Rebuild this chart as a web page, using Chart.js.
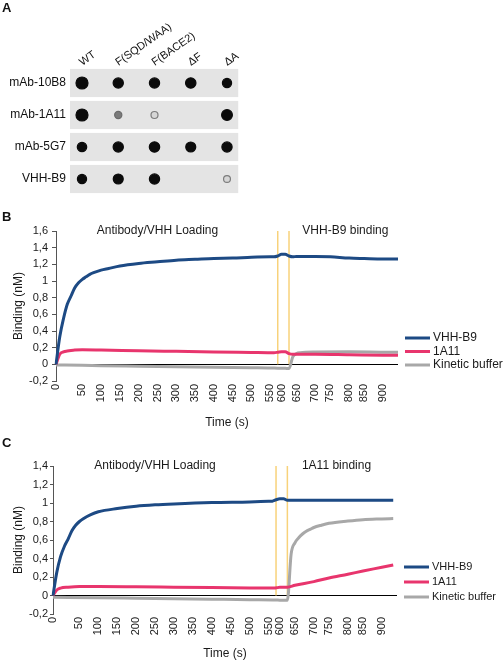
<!DOCTYPE html>
<html>
<head>
<meta charset="utf-8">
<script src="https://cdn.jsdelivr.net/npm/chart.js@4.4.1/dist/chart.umd.min.js"></script>
<style>
  html, body { margin: 0; padding: 0; background: #fff; }
  body { width: 504px; height: 661px; position: relative; overflow: hidden; }
  canvas { position: absolute; left: 0; }
  .panel { position: absolute; left: 2px; z-index: 2; font: bold 13px 'Liberation Sans', Arial, sans-serif; color: #111; }
</style>
</head>
<body>
<canvas id="blot" width="504" height="200" style="top:0"></canvas>
<canvas id="chartB" width="504" height="230" style="top:200px"></canvas>
<canvas id="chartC" width="504" height="231" style="top:430px"></canvas>
<div class="panel" style="top:0px">A</div>
<div class="panel" style="top:209px">B</div>
<div class="panel" style="top:435px">C</div>
<script>
Chart.defaults.font.family = "'Liberation Sans', Arial, Helvetica, sans-serif";
Chart.defaults.color = '#1a1a1a';
Chart.defaults.animation = false;

// ---- A: dot blot ----
const columnLabels = ['WT', 'F(SQD/WAA)', 'F(BACE2)', 'ΔF', 'ΔA'];
const rowLabels = ['mAb-10B8', 'mAb-1A11', 'mAb-5G7', 'VHH-B9'];
// relative spot strength, 0 = no spot
const spot10B8 = [1, 0.78, 0.78, 0.8, 0.65];
const spot1A11 = [1, 0.3, 0.25, 0, 0.85];
const spot5G7 = [0.68, 0.78, 0.8, 0.75, 0.78];
const spotB9 = [0.65, 0.75, 0.78, 0, 0.22];

// ---- B / C: BLI sensorgrams ----
// sample times used as categories (the original axis is not linear in time)
const timePoints = [
  0, 5, 10, 15, 20, 30, 40,
  50, 60, 70, 80, 90, 100, 110, 120, 130, 140, 150, 160, 170, 180, 190,
  200, 210, 220, 230, 240, 250, 260, 270, 280, 290, 300, 310, 320, 330, 340,
  350, 360, 370, 380, 390, 400, 410, 420, 430, 440, 450, 460, 470, 480, 490,
  500, 510, 520, 530, 540,
  550, 565, 585,
  600, 610, 620, 635,
  650, 660, 670, 680, 690,
  700, 712.5, 725, 737.5,
  750, 760, 770, 780, 790,
  800, 812.5, 825, 837.5,
  850, 860, 870, 880, 890,
  900, 910, 920, 930, 940
];
const timeTicks = [0, 50, 100, 150, 200, 250, 300, 350, 400, 450, 500, 550, 600, 650, 700, 750, 800, 850, 900];
const phaseSwitch = [585, 620];

// B: VHH-B9 binding step
const bVhhB9 = [[0, 0], [5, 0.33], [10, 0.55], [15, 0.72], [20, 0.82], [30, 0.92], [40, 0.98], [50, 1.02], [60, 1.05],
  [70, 1.08], [80, 1.1], [100, 1.13], [120, 1.15], [150, 1.18], [200, 1.21], [250, 1.23], [300, 1.25], [350, 1.26],
  [400, 1.27], [450, 1.275], [500, 1.285], [550, 1.29], [565, 1.29], [585, 1.3], [600, 1.32], [610, 1.32], [620, 1.3],
  [635, 1.29], [650, 1.295], [700, 1.295], [750, 1.29], [800, 1.275], [850, 1.27], [900, 1.265], [940, 1.265]];
const b1A11 = [[0, 0], [5, 0.12], [10, 0.15], [15, 0.16], [20, 0.167], [30, 0.172], [50, 0.174], [100, 0.171],
  [200, 0.163], [300, 0.156], [400, 0.149], [500, 0.143], [550, 0.14], [565, 0.14], [585, 0.145], [600, 0.152],
  [610, 0.152], [620, 0.128], [635, 0.12], [700, 0.12], [800, 0.115], [900, 0.11], [940, 0.108]];
const bBuffer = [[0, -0.008], [50, -0.012], [100, -0.016], [200, -0.022], [300, -0.028], [400, -0.034], [500, -0.04],
  [550, -0.043], [585, -0.046], [600, -0.047], [610, -0.048], [620, -0.05], [635, 0.09], [650, 0.13], [660, 0.14],
  [700, 0.148], [800, 0.15], [900, 0.146], [940, 0.145]];

// C: 1A11 binding step
const cVhhB9 = [[0, 0], [5, 0.25], [10, 0.42], [15, 0.53], [20, 0.61], [30, 0.7], [40, 0.76], [50, 0.8], [60, 0.83],
  [80, 0.875], [100, 0.905], [150, 0.94], [200, 0.965], [250, 0.98], [300, 0.99], [400, 1.005], [500, 1.012],
  [550, 1.018], [565, 1.02], [585, 1.035], [600, 1.045], [610, 1.045], [620, 1.03], [635, 1.03], [700, 1.03],
  [800, 1.03], [930, 1.03]];
const c1A11 = [[0, 0], [5, 0.06], [10, 0.08], [20, 0.09], [50, 0.097], [100, 0.097], [200, 0.094], [300, 0.09],
  [400, 0.086], [500, 0.082], [550, 0.08], [565, 0.08], [585, 0.083], [600, 0.088], [620, 0.09], [650, 0.11],
  [700, 0.15], [750, 0.19], [800, 0.23], [850, 0.265], [900, 0.305], [930, 0.33]];
const cBuffer = [[0, -0.02], [100, -0.025], [200, -0.03], [300, -0.035], [400, -0.04], [500, -0.045], [585, -0.048],
  [600, -0.05], [620, -0.05], [635, 0.45], [650, 0.57], [660, 0.625], [670, 0.665], [680, 0.695], [690, 0.715],
  [700, 0.735], [725, 0.76], [750, 0.78], [800, 0.805], [850, 0.82], [900, 0.828], [930, 0.832]];

const seriesNames = ['VHH-B9', '1A11', 'Kinetic buffer'];
const seriesColors = ['#1d4a84', '#e8356d', '#a8a8a8'];

// grey membrane strips behind each row of spots
const rowBands = {
  id: 'rowBands',
  beforeDatasetsDraw(chart) {
    const { ctx, scales: { x, y } } = chart;
    ctx.save();
    ctx.fillStyle = '#e4e4e4';
    rowLabels.forEach((_, i) => {
      const x0 = x.getPixelForValue(-0.33), x1 = x.getPixelForValue(4.31);
      const y0 = y.getPixelForValue(i - 0.44), y1 = y.getPixelForValue(i + 0.44);
      ctx.fillRect(x0, Math.min(y0, y1), x1 - x0, Math.abs(y1 - y0));
    });
    ctx.restore();
  }
};

function spotRadius(s) { return s >= 0.5 ? 2 + 4 * s : 3 + 2 * s; }
function spotFill(s) { return s >= 0.5 ? '#0b0b0b' : (s < 0.28 ? '#d6d6d6' : '#7a7a7a'); }
function spotEdge(s) { return s >= 0.5 ? '#0b0b0b' : (s < 0.28 ? '#7c7c7c' : '#6a6a6a'); }

const spots = [];
[spot10B8, spot1A11, spot5G7, spotB9].forEach((row, r) => {
  row.forEach((s, c) => { if (s > 0) spots.push({ x: columnLabels[c], y: rowLabels[r], s: s }); });
});

new Chart(document.getElementById('blot'), {
  type: 'scatter',
  data: {
    datasets: [{
      data: spots,
      clip: false,
      pointRadius: c => c.raw ? spotRadius(c.raw.s) : 0,
      pointBackgroundColor: c => c.raw ? spotFill(c.raw.s) : '#000',
      pointBorderColor: c => c.raw ? spotEdge(c.raw.s) : '#000',
      pointBorderWidth: 1.2
    }]
  },
  options: {
    responsive: false,
    events: [],
    layout: { padding: { right: 277, bottom: 21 } },
    plugins: { legend: { display: false }, tooltip: { enabled: false } },
    scales: {
      x: {
        type: 'category', labels: columnLabels, position: 'top', offset: false,
        grid: { display: false, drawTicks: false }, border: { display: false },
        ticks: { autoSkip: false, minRotation: 35, maxRotation: 35, padding: 14, labelOffset: 6, font: { size: 11 }, color: '#111' },
        afterFit(s) { s.height = 83; s.paddingLeft = 0; s.paddingRight = 0; }
      },
      y: {
        type: 'category', labels: rowLabels, offset: false,
        grid: { display: false, drawTicks: false }, border: { display: false },
        ticks: { padding: 16, font: { size: 12 }, color: '#111' },
        afterFit(s) { s.width = 82; s.paddingTop = 0; s.paddingBottom = 0; }
      }
    }
  },
  plugins: [rowBands]
});

// phase captions above the curves
const phaseText = {
  id: 'phaseText',
  afterDatasetsDraw(chart, args, o) {
    const { ctx, scales: { x, y } } = chart;
    ctx.save();
    ctx.font = "12px 'Liberation Sans', Arial, sans-serif";
    ctx.fillStyle = '#1a1a1a';
    ctx.textAlign = 'center';
    ctx.textBaseline = 'middle';
    o.items.forEach(it => ctx.fillText(it.text, x.getPixelForValue(timePoints.indexOf(it.t)), y.getPixelForValue(it.v)));
    ctx.restore();
  }
};

// legend to the right of the plot
const sideLegend = {
  id: 'sideLegend',
  afterDraw(chart, args, o) {
    const { ctx, chartArea } = chart;
    ctx.save();
    ctx.font = o.size + "px 'Liberation Sans', Arial, sans-serif";
    ctx.textBaseline = 'middle';
    ctx.textAlign = 'left';
    chart.data.datasets.filter(d => !d.phase).forEach((d, i) => {
      const y = o.top + i * o.gap, x = chartArea.right + 7;
      ctx.strokeStyle = d.borderColor;
      ctx.lineWidth = 3;
      ctx.beginPath(); ctx.moveTo(x, y); ctx.lineTo(x + 25, y); ctx.stroke();
      ctx.fillStyle = '#1a1a1a';
      ctx.fillText(d.label, x + 28, y);
    });
    ctx.restore();
  }
};

function commaTick(v) {
  return String(Math.round(v * 10) / 10).replace('.', ',');
}

function sensorgram(id, series, yMax, cfg) {
  const datasets = series.map((pts, i) => ({
    label: seriesNames[i],
    data: pts.map(p => ({ x: p[0], y: p[1] })),
    borderColor: seriesColors[i],
    backgroundColor: seriesColors[i],
    borderWidth: 3,
    pointRadius: 0,
    cubicInterpolationMode: 'monotone',
    order: 1
  }));
  phaseSwitch.forEach(t => datasets.push({
    label: '', phase: true,
    data: [{ x: t, y: yMax }, { x: t, y: 0 }],
    borderColor: '#f8d27a', borderWidth: 1.5, pointRadius: 0, order: 5
  }));

  return new Chart(document.getElementById(id), {
    type: 'line',
    data: { labels: timePoints, datasets: datasets },
    options: {
      responsive: false,
      events: [],
      layout: { padding: { top: cfg.top, right: cfg.right } },
      plugins: {
        legend: { display: false },
        tooltip: { enabled: false },
        phaseText: { items: cfg.captions },
        sideLegend: cfg.legend
      },
      scales: {
        x: {
          type: 'category', offset: false,
          grid: { display: false, drawTicks: false }, border: { display: false },
          ticks: {
            autoSkip: false, minRotation: 90, maxRotation: 90, padding: 3,
            font: { size: 11 }, color: '#1a1a1a',
            callback(value) {
              const t = this.getLabelForValue(value);
              return timeTicks.includes(t) ? String(t) : null;
            }
          },
          title: { display: true, text: 'Time (s)', font: { size: 12 }, color: '#1a1a1a', padding: { top: cfg.xTitlePad, bottom: 0 } },
          afterFit(s) { s.height = cfg.xHeight; }
        },
        y: {
          min: -0.2, max: yMax,
          ticks: { stepSize: 0.2, padding: cfg.tickPad, font: { size: 11 }, color: '#1a1a1a', callback: v => commaTick(v) },
          grid: {
            color: c => (c.tick && Math.abs(c.tick.value) < 1e-9) ? '#000' : 'rgba(0,0,0,0)',
            lineWidth: 1, tickColor: '#555', tickWidth: 1, tickLength: cfg.tickLen
          },
          border: { color: '#555', width: 1 },
          title: { display: true, text: 'Binding (nM)', font: { size: 12 }, color: '#1a1a1a', padding: { top: 11, bottom: 0 } },
          afterFit(s) { s.width = cfg.yWidth; }
        }
      }
    },
    plugins: [phaseText, sideLegend]
  });
}

sensorgram('chartB', [bVhhB9, b1A11, bBuffer], 1.6, {
  top: 31, right: 106, yWidth: 56, xHeight: 49, xTitlePad: 1, tickPad: 4, tickLen: 4,
  captions: [{ text: 'Antibody/VHH Loading', t: 250, v: 1.6 }, { text: 'VHH-B9 binding', t: 790, v: 1.6 }],
  legend: { top: 138, gap: 13.5, size: 12 }
});

sensorgram('chartC', [cVhhB9, c1A11, cBuffer], 1.4, {
  top: 36, right: 107, yWidth: 53, xHeight: 47, xTitlePad: 0, tickPad: 2, tickLen: 3,
  captions: [{ text: 'Antibody/VHH Loading', t: 250, v: 1.4 }, { text: '1A11 binding', t: 770, v: 1.4 }],
  legend: { top: 137, gap: 15, size: 11 }
});
</script>
</body>
</html>
